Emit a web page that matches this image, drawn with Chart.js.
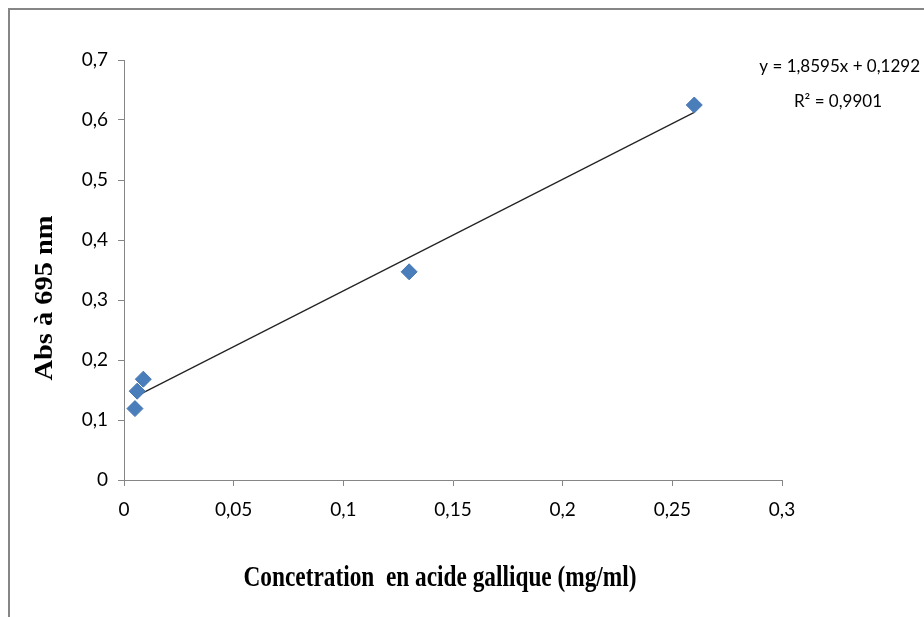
<!DOCTYPE html>
<html>
<head>
<meta charset="utf-8">
<script src="https://cdn.jsdelivr.net/npm/chart.js@4.4.1/dist/chart.umd.min.js"></script>
<style>
  html, body { margin: 0; padding: 0; background: #fff; }
  #wrap { position: relative; width: 924px; height: 617px; }
  #frame { position: absolute; left: 8px; top: 8px; right: 0; bottom: 0;
           border-left: 2px solid #868686; border-top: 2px solid #868686; pointer-events: none; }
</style>
</head>
<body>
<div id="wrap">
  <canvas id="absChart" width="924" height="617"></canvas>
  <div id="frame"></div>
</div>
<script>
// gallic acid calibration points
const concentrations = [0.005, 0.006, 0.0088, 0.13, 0.26];
const absorbances = [0.119, 0.148, 0.168, 0.347, 0.625];

// linear fit shown on the chart
const slope = 1.8595;
const intercept = 0.1292;
const rSquared = 0.9901;

const xTitle = 'Concetration  en acide gallique (mg/ml)';
const yTitle = 'Abs à 695 nm';

const fmt = v => String(Number(v.toFixed(4))).replace('.', ',');

const xMin = Math.min(...concentrations);
const xMax = Math.max(...concentrations);
const trendPoints = [
  { x: xMin, y: slope * xMin + intercept },
  { x: xMax, y: slope * xMax + intercept }
];

const ctx = document.getElementById('absChart').getContext('2d');

// axis titles are squeezed horizontally like the original serif labels
const titlesPlugin = {
  id: 'titles',
  afterDraw(chart) {
    const c = chart.ctx;
    const area = chart.chartArea;
    c.save();
    c.fillStyle = '#000';
    c.font = 'bold 30px "Liberation Serif"';
    c.textAlign = 'center';
    c.textBaseline = 'middle';
    let w = c.measureText(xTitle).width;
    c.translate(440, 578);
    c.scale(393 / w, 1);
    c.fillText(xTitle, 0, 0);
    c.restore();

    c.save();
    c.fillStyle = '#000';
    c.font = 'bold 25px "Liberation Serif"';
    c.textAlign = 'center';
    c.textBaseline = 'middle';
    w = c.measureText(yTitle).width;
    c.translate(46, 298);
    c.rotate(-Math.PI / 2);
    c.scale(165 / w, 1);
    c.fillText(yTitle, 0, 0);
    c.restore();

    // trendline equation
    c.save();
    c.fillStyle = '#000';
    c.font = '17px Lato';
    c.textBaseline = 'middle';
    c.textAlign = 'right';
    const eq = 'y = ' + fmt(slope) + 'x + ' + fmt(intercept);
    c.fillText(eq, area.right + 138, 67);
    c.textAlign = 'center';
    c.fillText('R² = ' + fmt(rSquared), area.right + 56, 102);
    c.restore();
  }
};

new Chart(ctx, {
  type: 'scatter',
  data: {
    datasets: [
      {
        label: 'Abs',
        data: concentrations.map((x, i) => ({ x: x, y: absorbances[i] })),
        pointStyle: 'rectRot',
        pointRadius: 8,
        pointHoverRadius: 8,
        backgroundColor: '#4A7EBB',
        borderColor: '#4576B2',
        borderWidth: 1,
        order: 1
      },
      {
        label: 'Linéaire',
        data: trendPoints,
        showLine: true,
        borderColor: '#222',
        borderWidth: 1.2,
        pointRadius: 0,
        order: 2
      }
    ]
  },
  options: {
    responsive: false,
    animation: false,
    layout: { padding: { left: 0, top: 60, right: 142, bottom: 0 } },
    plugins: {
      legend: { display: false },
      tooltip: { enabled: false }
    },
    scales: {
      x: {
        type: 'linear',
        min: 0,
        max: 0.3,
        ticks: {
          stepSize: 0.05,
          color: '#000',
          font: { family: 'Lato', size: 19 },
          padding: 12,
          callback: v => fmt(v)
        },
        grid: { drawOnChartArea: false, drawTicks: true, tickLength: 6, color: '#868686' },
        border: { color: '#868686', width: 1 },
        afterFit: s => { s.height = 137; }
      },
      y: {
        min: 0,
        max: 0.7,
        ticks: {
          stepSize: 0.1,
          color: '#000',
          font: { family: 'Lato', size: 19 },
          padding: 10,
          callback: v => fmt(v)
        },
        grid: { drawOnChartArea: false, drawTicks: true, tickLength: 6, color: '#868686' },
        border: { color: '#868686', width: 1 },
        afterFit: s => { s.width = 124; }
      }
    }
  },
  plugins: [titlesPlugin]
});
</script>
</body>
</html>
